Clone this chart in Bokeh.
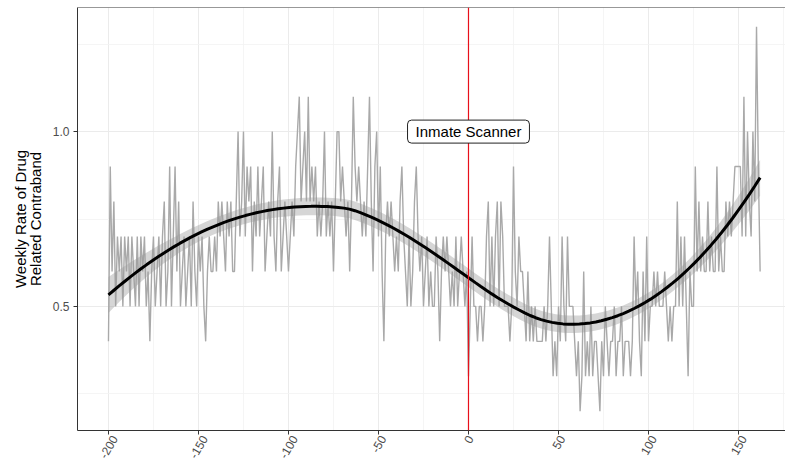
import numpy as np
from bokeh.plotting import figure
from bokeh.models import Span, Label, Range1d, FixedTicker, ColumnDataSource, LinearAxis
from bokeh.embed import file_html
from bokeh.resources import INLINE

# Weekly rate of drug related contraband, weeks relative to scanner install
rate = [
    0.4, 0.9, 0.6, 0.8, 0.5, 0.7, 0.6, 0.7, 0.5, 0.7,
    0.6, 0.7, 0.5, 0.7, 0.6, 0.5, 0.7, 0.5, 0.7, 0.6,
    0.7, 0.5, 0.6, 0.4, 0.6, 0.7, 0.5, 0.6, 0.7, 0.5,
    0.7, 0.8, 0.5,
    0.6, 0.9, 0.5, 0.7, 0.9, 0.6, 0.8, 0.5, 0.6, 0.7,
    0.5, 0.6, 0.7, 0.5, 0.8, 0.6, 0.5, 0.7, 0.6, 0.7,
    0.5, 0.4, 0.6, 0.7, 0.6, 0.6, 0.7, 0.6, 0.8, 0.7,
    0.8, 0.7, 0.6, 0.8, 0.7, 0.8, 0.6,
    0.6, 0.8, 1.0, 0.7, 0.8, 1.0, 0.7, 0.9, 0.8, 0.9,
    0.6, 0.8, 0.7, 0.9, 0.7, 0.8, 0.9, 0.6, 0.7, 0.8,
    0.7, 1.0, 0.7, 0.6, 0.8, 0.9, 0.6, 0.7, 0.8, 0.7,
    0.6, 0.7, 0.8, 0.7, 0.9, 1.0, 1.1, 0.8,
    0.9, 1.0, 0.8, 1.1, 0.8, 0.9, 0.8, 0.9, 0.7, 0.8,
    0.7, 0.8, 1.0, 0.7, 0.8, 0.7, 0.8, 0.6, 0.8, 1.0,
    1.0, 0.8, 0.9, 0.8, 0.7, 0.8, 0.6, 0.8, 1.1, 0.9,
    0.8, 0.9, 0.8, 0.7, 0.8, 0.7, 0.9,
    1.1, 0.8, 0.6, 0.9, 1.0, 0.7, 0.9, 0.6, 0.4, 0.7,
    0.8, 0.7, 0.8, 0.7, 0.6, 0.7, 0.6, 0.8, 0.9, 0.7,
    0.6, 0.5, 0.7, 0.5, 0.6, 0.8, 0.9, 0.7, 0.6, 0.7,
    0.5, 0.6, 0.7, 0.5, 0.6, 0.5, 0.5,
    0.7, 0.6, 0.4, 0.6, 0.7, 0.6, 0.7, 0.6, 0.5, 0.6,
    0.5, 0.7, 0.5, 0.6, 0.7, 0.6, 0.5, 0.6, 0.3, 0.5,
    0.7, 0.5, 0.5, 0.4, 0.5, 0.5, 0.4, 0.5, 0.7, 0.8,
    0.5, 0.7, 0.5, 0.7, 0.8, 0.5, 0.8,
    0.7, 0.5, 0.5, 0.5, 0.4, 0.5, 0.9, 0.6, 0.5, 0.7,
    0.6, 0.6, 0.5, 0.4, 0.6, 0.4, 0.5, 0.4, 0.5, 0.4,
    0.4, 0.4, 0.4, 0.5, 0.4, 0.5, 0.7, 0.5, 0.3, 0.4,
    0.3, 0.5, 0.4, 0.7, 0.5, 0.4, 0.7, 0.5,
    0.5, 0.5, 0.4, 0.3, 0.4, 0.2, 0.3, 0.6, 0.3, 0.4,
    0.3, 0.5, 0.3, 0.4, 0.4, 0.3, 0.2, 0.4, 0.3, 0.5,
    0.4, 0.3, 0.4, 0.4, 0.5, 0.3, 0.4, 0.4, 0.5, 0.3,
    0.4, 0.4, 0.4, 0.3, 0.4, 0.7, 0.5,
    0.6, 0.4, 0.3, 0.6, 0.4, 0.7, 0.4, 0.5, 0.5, 0.6,
    0.5, 0.6, 0.5, 0.5, 0.5, 0.6, 0.5, 0.4, 0.5, 0.4,
    0.5, 0.5, 0.8, 0.5, 0.7, 0.5, 0.7, 0.5, 0.3, 0.6,
    0.5, 0.5, 0.9, 0.6, 0.8, 0.6, 0.7,
    0.6, 0.6, 0.8, 0.6, 0.7, 0.6, 0.6, 0.9, 0.6, 0.7,
    0.6, 0.6, 0.8, 0.7, 0.8, 0.7, 0.8, 0.9, 0.9, 0.9,
    0.9, 0.7, 1.1, 0.7, 1.0, 0.8, 0.7, 1.0, 0.8, 1.3,
    0.9, 0.6,
]
first_week = -200
week = list(range(first_week, first_week + len(rate)))

x_ticks = [-200, -150, -100, -50, 0, 50, 100, 150]
x_tick_labels = ["-200", "-150", "-100", "-50", "0", "50", "100", "150"]
x_minor = [-225, -175, -125, -75, -25, 25, 75, 125, 175]
y_ticks = [0.5, 1.0]
y_minor = [0.25, 0.75, 1.25]
y_tick_labels = ["0.5", "1.0"]

event_week = 0
event_label = "Inmate Scanner"
event_label_y = 1.0
y_title = "Weekly Rate of Drug\nRelated Contraband"

X_MIN, X_MAX = -217.2, 176.1
Y_MIN, Y_MAX = 0.145, 1.355
PLOT_W = 785
LEFT = 77


def loess_fit(x, y, x_new, span=0.75):
    """Local quadratic regression with tricube weights plus standard errors."""
    x = np.asarray(x, float)
    y = np.asarray(y, float)
    n = len(x)
    q = int(np.floor(n * span))

    def operator_row(x0):
        d = np.abs(x - x0)
        h = np.sort(d)[q - 1]
        u = np.clip(d / h, 0, 1)
        w = (1 - u ** 3) ** 3
        X = np.column_stack([np.ones(n), x - x0, (x - x0) ** 2])
        WX = X * w[:, None]
        return np.linalg.solve(X.T @ WX, WX.T)[0]

    L = np.array([operator_row(v) for v in x])
    resid = y - L @ y
    one_delta = n - 2 * np.trace(L) + np.sum(L ** 2)
    s = np.sqrt(np.sum(resid ** 2) / one_delta)
    rows = np.array([operator_row(v) for v in x_new])
    fit = rows @ y
    se = s * np.sqrt(np.sum(rows ** 2, axis=1))
    return fit, se


grid = np.linspace(min(week), max(week), 120)
fit, se = loess_fit(week, rate, grid)
band = ColumnDataSource(dict(x=grid, lo=fit - 1.96 * se, hi=fit + 1.96 * se))
smooth = ColumnDataSource(dict(x=grid, y=fit))
series = ColumnDataSource(dict(x=week, y=rate))

p = figure(
    width=PLOT_W, height=464,
    output_backend="svg", toolbar_location=None,
    x_range=Range1d(X_MIN, X_MAX), y_range=Range1d(Y_MIN, Y_MAX),
    min_border_left=LEFT, min_border_right=0, min_border_top=7, min_border_bottom=34,
    background_fill_color="white", border_fill_color="white",
)
p.outline_line_color = None

p.line("x", "y", source=series, line_color="#A9A9A9", line_width=1.4)
p.varea(x="x", y1="lo", y2="hi", source=band, fill_color="#999999", fill_alpha=0.4)
p.line("x", "y", source=smooth, line_color="black", line_width=3)

# panel top edge
p.add_layout(Span(location=Y_MAX, dimension="width", line_color="#333333", line_width=1))

p.add_layout(Span(location=event_week, dimension="height",
                  line_color="#E8101A", line_width=1.2))
p.add_layout(Label(
    x=event_week, y=event_label_y, text=event_label,
    text_align="center", text_baseline="middle",
    text_font="Liberation Sans", text_font_size="15px", text_color="black",
    background_fill_color="white", border_line_color="#222222", border_line_width=1,
    border_radius=4, padding=dict(left=8, right=8, top=3, bottom=3),
))

p.xaxis.ticker = FixedTicker(ticks=x_ticks, minor_ticks=x_minor)
p.yaxis.ticker = FixedTicker(ticks=y_ticks, minor_ticks=y_minor)
p.yaxis.major_label_overrides = dict(zip(y_ticks, y_tick_labels))

for ax in (p.xaxis[0], p.yaxis[0]):
    ax.axis_line_color = "#333333"
    ax.major_tick_line_color = "#333333"
    ax.major_tick_in = 0
    ax.major_tick_out = 4
    ax.minor_tick_line_color = None
    ax.major_label_text_font = "Liberation Sans"
    ax.major_label_text_font_size = "12px"
    ax.major_label_text_color = "#4D4D4D"

# tick marks on the main x axis; its rotated labels go on a second axis whose
# label anchors are nudged so each slanted label sits centred under its tick
p.xaxis.major_label_overrides = {t: "" for t in x_ticks}
p.xaxis.major_label_text_color = None
p.xaxis.major_label_text_font_size = "1px"
p.xaxis.major_label_standoff = 0

px_per_unit = (PLOT_W - LEFT) / (X_MAX - X_MIN)
char_w = {"-": 4.0}


def label_width(s):
    return sum(char_w.get(c, 6.67) for c in s)


label_pos = [t + label_width(s) / 4 / px_per_unit for t, s in zip(x_ticks, x_tick_labels)]
label_axis = LinearAxis(
    ticker=FixedTicker(ticks=label_pos, minor_ticks=[]),
    major_label_overrides=dict(zip(label_pos, x_tick_labels)),
    axis_line_color=None, major_tick_line_color=None, minor_tick_line_color=None,
    major_tick_in=0, major_tick_out=0, major_label_standoff=2,
    major_label_orientation=np.pi / 3,
    major_label_text_font="Liberation Sans", major_label_text_font_size="12px",
    major_label_text_color="#4D4D4D",
)
p.add_layout(label_axis, "below")

p.yaxis.major_label_standoff = 4
p.yaxis.axis_label = y_title
p.yaxis.axis_label_text_font = "Liberation Sans"
p.yaxis.axis_label_text_font_size = "15px"
p.yaxis.axis_label_text_font_style = "normal"
p.yaxis.axis_label_text_color = "black"
p.yaxis.axis_label_text_line_height = 0.9
p.yaxis.axis_label_standoff = 6

p.xgrid.grid_line_color = "#EBEBEB"
p.ygrid.grid_line_color = "#EBEBEB"
p.xgrid.minor_grid_line_color = "#F2F2F2"
p.ygrid.minor_grid_line_color = "#F2F2F2"
p.xgrid.minor_grid_line_width = 0.8
p.ygrid.minor_grid_line_width = 0.8

open("out.html", "w").write(file_html(p, INLINE))
